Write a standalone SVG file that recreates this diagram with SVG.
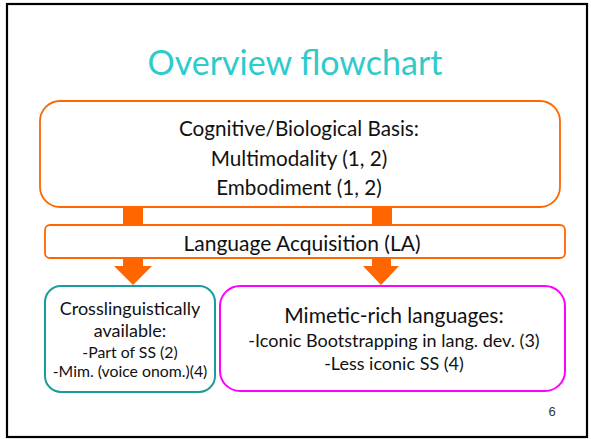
<svg xmlns="http://www.w3.org/2000/svg" width="591" height="439" viewBox="0 0 591 439">
<style>
text{font-family:Lato,"Open Sans","Liberation Sans",sans-serif;fill:#111;text-anchor:middle}
.title{fill:#2ECBCB;font-size:34px}
.org{fill:#fff;stroke:#FF6600;stroke-width:1.8}
.teal{fill:#fff;stroke:#1A9C9C;stroke-width:2}
.mag{fill:#fff;stroke:#FF00FF;stroke-width:2}
.bar{fill:#FF6600}
.t22{font-size:20.7px}
.t18{font-size:18px}
.t15{font-size:15.8px}
</style>
<rect x="0" y="0" width="591" height="439" fill="#fff"/>
<rect x="7" y="4" width="580" height="433" fill="#fff" stroke="#000" stroke-width="2.2"/>
<text class="title" x="295" y="75">Overview flowchart</text>
<g id="connectors">
<rect class="bar" x="123" y="206" width="20" height="21"/>
<rect class="bar" x="372" y="206" width="20" height="21"/>
<polygon class="bar" points="123,258 143,258 143,266 152,266 133,285 114,266 123,266"/>
<polygon class="bar" points="372,258 391,258 391,266 399,266 381,285 363,266 372,266"/>
</g>
<g id="basis">
<rect class="org" x="40" y="101" width="520" height="106" rx="20"/>
<text class="t22" x="299" y="136">Cognitive/Biological Basis:</text>
<text class="t22" x="299" y="166">Multimodality (1, 2)</text>
<text class="t22" x="299" y="195">Embodiment (1, 2)</text>
</g>
<g id="la">
<rect class="org" x="45" y="225" width="520" height="33" rx="5"/>
<text x="302" y="251" style="font-size:21px">Language Acquisition (LA)</text>
</g>
<g id="cross">
<rect class="teal" x="45" y="286" width="170" height="106" rx="16"/>
<text class="t18" x="130" y="315">Crosslinguistically</text>
<text class="t18" x="130" y="337">available:</text>
<text class="t15" x="130" y="358">-Part of SS (2)</text>
<text class="t15" x="130" y="377">-Mim. (voice onom.)(4)</text>
</g>
<g id="mimetic">
<rect class="mag" x="220" y="286" width="345" height="105" rx="20"/>
<text x="394" y="323" style="font-size:21px">Mimetic-rich languages:</text>
<text class="t18" x="394" y="347">-Iconic Bootstrapping in lang. dev. (3)</text>
<text class="t18" x="394" y="370">-Less iconic SS (4)</text>
</g>
<text x="552" y="416" style="font-size:13px;fill:#333;font-family:'Liberation Sans',sans-serif">6</text>
</svg>
